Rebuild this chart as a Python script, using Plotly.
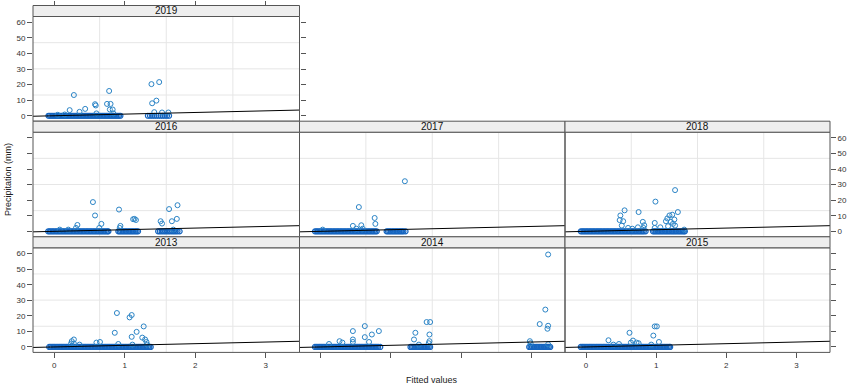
import plotly.graph_objects as go

# ---------------- data ----------------
years = ["2019", "2016", "2017", "2018", "2013", "2014", "2015"]

x_2019_dry = [-0.08, -0.06, -0.04, -0.02, 0.00, 0.02, 0.04, 0.06, 0.08, 0.10, 0.12, 0.14, 0.16, 0.18,
              0.20, 0.22, 0.24, 0.26, 0.28, 0.30, 0.32, 0.34, 0.36, 0.38, 0.40, 0.42, 0.44, 0.46,
              0.48, 0.50, 0.52, 0.54, 0.56, 0.58, 0.60, 0.62, 0.64, 0.66, 0.68, 0.70, 0.72, 0.74,
              0.76, 0.78, 0.80, 0.82, 0.84, 0.86, 0.88, 0.90, 0.92, 0.94,
              1.33, 1.36, 1.39, 1.42, 1.45, 1.48, 1.51, 1.54, 1.57, 1.60, 1.63]
x_2019_wet = [0.28, 0.22, 0.36, 0.44, 0.58, 0.59, 0.60, 0.78, 0.75, 0.80, 0.79, 0.83, 0.84,
              1.38, 1.49, 1.39, 1.45, 1.42, 1.53, 1.62, 0.15, 0.05]
y_2019_wet = [13.3, 3.6, 2.5, 4.4, 7.4, 6.6, 1.5, 15.9, 7.6, 7.6, 4.0, 4.0, 1.5,
              20.3, 21.6, 8.0, 9.7, 2.3, 2.1, 2.1, 0.8, 0.6]

x_2016_dry = [-0.085, -0.065, -0.045, -0.025, -0.005, 0.015, 0.035, 0.055, 0.075, 0.095, 0.115, 0.135,
              0.155, 0.175, 0.195, 0.215, 0.235, 0.255, 0.275, 0.295, 0.315, 0.335, 0.355, 0.375,
              0.395, 0.415, 0.435, 0.455, 0.475, 0.495, 0.515, 0.535, 0.555, 0.575, 0.595, 0.615,
              0.635, 0.655, 0.675, 0.695, 0.715, 0.735, 0.755, 0.77,
              0.91, 0.93, 0.95, 0.97, 0.99, 1.01, 1.03, 1.05, 1.07, 1.09, 1.11, 1.13, 1.15, 1.17, 1.19,
              1.475, 1.50, 1.525, 1.55, 1.575, 1.60, 1.625, 1.65, 1.675, 1.70, 1.725, 1.75, 1.78]
x_2016_wet = [0.55, 0.58, 0.67, 0.64, 0.33, 0.31, 0.08, 0.20, 0.92, 0.94, 0.93, 1.12, 1.16, 1.14,
              1.51, 1.53, 1.63, 1.75, 1.67, 1.74, 1.69]
y_2016_wet = [18.8, 10.2, 4.8, 2.2, 4.1, 2.2, 1.1, 1.1, 14.0, 3.5, 2.2, 7.8, 7.3, 8.0,
              6.5, 5.0, 14.3, 16.8, 6.5, 8.0, 1.1]

x_2017_dry = [-0.08, -0.06, -0.04, -0.02, 0.00, 0.02, 0.04, 0.06, 0.08, 0.10, 0.12, 0.14, 0.16, 0.18,
              0.20, 0.22, 0.24, 0.26, 0.28, 0.30, 0.32, 0.34, 0.36, 0.38, 0.40, 0.42, 0.44, 0.46,
              0.48, 0.50, 0.52, 0.54, 0.56, 0.58, 0.60, 0.62, 0.64, 0.66, 0.68, 0.70, 0.72, 0.74,
              0.76, 0.78, 0.80,
              0.94, 0.96, 0.98, 1.00, 1.02, 1.04, 1.06, 1.08, 1.10, 1.12, 1.14, 1.16, 1.18, 1.21]
x_2017_wet = [1.20, 0.545, 0.77, 0.78, 0.46, 0.58, 0.51, 0.60, 0.03]
y_2017_wet = [32.2, 15.6, 8.6, 4.8, 3.5, 3.9, 1.7, 1.7, 1.1]

x_2018_dry = [-0.075, -0.055, -0.035, -0.015, 0.005, 0.025, 0.045, 0.065, 0.085, 0.105, 0.125, 0.145,
              0.165, 0.185, 0.205, 0.225, 0.245, 0.265, 0.285, 0.305, 0.325, 0.345, 0.365, 0.385,
              0.405, 0.425, 0.445, 0.465, 0.485, 0.505, 0.525, 0.545, 0.565, 0.585, 0.605, 0.625,
              0.645, 0.665, 0.685, 0.705, 0.725, 0.745, 0.765, 0.785, 0.805, 0.825, 0.85,
              0.955, 0.975, 0.995, 1.015, 1.035, 1.055, 1.075, 1.095, 1.115, 1.135, 1.155, 1.175,
              1.195, 1.215, 1.235, 1.255, 1.275, 1.295, 1.315, 1.335, 1.355, 1.375, 1.395, 1.41]
x_2018_wet = [1.27, 0.99, 0.55, 0.75, 0.49, 0.48, 0.53, 0.51, 0.60, 0.66, 0.74, 0.81, 0.83, 0.82,
              0.98, 0.98, 1.06, 1.14, 1.16, 1.19, 1.23, 1.31, 1.26, 1.21, 1.24, 1.27, 1.17, 1.40]
y_2018_wet = [26.5, 19.1, 13.5, 12.4, 10.2, 7.2, 6.5, 3.7, 2.2, 1.7, 2.6, 6.1, 3.9, 2.2,
              5.4, 2.2, 2.6, 6.5, 8.3, 10.2, 10.7, 12.4, 7.6, 6.1, 4.8, 3.7, 3.3, 1.1]

x_2013_dry = [-0.07, -0.05, -0.03, -0.01, 0.01, 0.03, 0.05, 0.07, 0.09, 0.11, 0.13, 0.15, 0.17, 0.19,
              0.21, 0.23, 0.25, 0.27, 0.29, 0.31, 0.33, 0.35, 0.37, 0.39, 0.41, 0.43, 0.45, 0.47,
              0.49, 0.51, 0.53, 0.55, 0.57, 0.59, 0.61, 0.63, 0.65, 0.67, 0.69, 0.71, 0.73, 0.75,
              0.77, 0.79, 0.81, 0.83, 0.85, 0.87, 0.89, 0.91, 0.93, 0.95, 0.97, 0.99, 1.01, 1.03,
              1.05, 1.07, 1.09, 1.11, 1.13, 1.15, 1.17, 1.19, 1.21, 1.23, 1.25, 1.27, 1.29, 1.31,
              1.33, 1.35, 1.37]
x_2013_wet = [0.89, 1.10, 1.07, 0.86, 1.27, 1.17, 1.10, 1.25, 1.29, 1.31, 1.32, 0.91, 0.25, 0.28,
              0.24, 0.28, 0.36, 0.60, 0.65, 1.11]
y_2013_wet = [21.8, 20.5, 19.0, 9.1, 13.2, 9.7, 6.5, 6.0, 4.8, 3.2, 1.5, 1.9, 3.7, 4.8,
              2.2, 2.2, 1.5, 2.8, 3.2, 1.5]

x_2014_dry = [-0.08, -0.06, -0.04, -0.02, 0.00, 0.02, 0.04, 0.06, 0.08, 0.10, 0.12, 0.14, 0.16, 0.18,
              0.20, 0.22, 0.24, 0.26, 0.28, 0.30, 0.32, 0.34, 0.36, 0.38, 0.40, 0.42, 0.44, 0.46,
              0.48, 0.50, 0.52, 0.54, 0.56, 0.58, 0.60, 0.62, 0.64, 0.66, 0.68, 0.70, 0.72, 0.74,
              0.76, 0.78, 0.80, 0.82, 0.85,
              1.28, 1.30, 1.32, 1.34, 1.36, 1.38, 1.40, 1.42, 1.44, 1.46, 1.48, 1.50, 1.52, 1.54, 1.56,
              2.97, 2.99, 3.01, 3.03, 3.05, 3.07, 3.09, 3.11, 3.13, 3.15, 3.17, 3.19, 3.21, 3.23,
              3.25, 3.27]
x_2014_wet = [0.12, 0.27, 0.31, 0.46, 0.46, 0.46, 0.63, 0.63, 0.73, 0.69, 0.83, 1.35, 1.33, 1.51,
              1.56, 1.55, 1.55, 1.54, 1.40, 3.24, 3.20, 3.12, 3.24, 3.23, 2.98, 2.99, 3.24]
y_2014_wet = [1.9, 3.7, 2.8, 10.2, 4.8, 3.2, 13.4, 6.3, 8.0, 3.2, 10.2, 9.1, 4.8, 16.0,
              16.0, 8.0, 3.7, 2.4, 1.5, 59.4, 24.0, 14.7, 13.6, 11.7, 3.7, 2.4, 1.7]

x_2015_dry = [-0.075, -0.055, -0.035, -0.015, 0.005, 0.025, 0.045, 0.065, 0.085, 0.105, 0.125, 0.145,
              0.165, 0.185, 0.205, 0.225, 0.245, 0.265, 0.285, 0.305, 0.325, 0.345, 0.365, 0.385,
              0.405, 0.425, 0.445, 0.465, 0.485, 0.505, 0.525, 0.545, 0.565, 0.585, 0.605, 0.625,
              0.645, 0.665, 0.685, 0.705, 0.725, 0.745, 0.765, 0.785, 0.805, 0.825, 0.845, 0.865,
              0.885, 0.905, 0.925, 0.945, 0.965, 0.985, 1.005, 1.025, 1.045, 1.065, 1.085, 1.105,
              1.125, 1.145, 1.165, 1.185, 1.20]
x_2015_wet = [0.98, 1.01, 0.62, 0.96, 0.32, 0.67, 0.64, 0.72, 0.75, 1.04, 0.47, 0.39, 0.93]
y_2015_wet = [13.2, 13.2, 9.1, 7.3, 4.3, 4.1, 2.8, 2.8, 2.4, 3.2, 1.9, 1.5, 1.5]

x_ticks = [0, 1, 2, 3]
y_ticks = [0, 10, 20, 30, 40, 50, 60]
fit_intercept = 0.0
fit_slope = 1.05

data = {
    "2019": (x_2019_dry, x_2019_wet, y_2019_wet),
    "2016": (x_2016_dry, x_2016_wet, y_2016_wet),
    "2017": (x_2017_dry, x_2017_wet, y_2017_wet),
    "2018": (x_2018_dry, x_2018_wet, y_2018_wet),
    "2013": (x_2013_dry, x_2013_wet, y_2013_wet),
    "2014": (x_2014_dry, x_2014_wet, y_2014_wet),
    "2015": (x_2015_dry, x_2015_wet, y_2015_wet),
}

# ---------------- layout geometry ----------------
W, H = 850, 387
XR = [-0.3, 3.48]
YR = [-3.5, 63.7]
cols = [(33, 299.5), (299.5, 565), (565, 830)]
rows = [(5.5, 16.5, 121.2), (121.2, 132.2, 236.8), (236.8, 247.8, 352.4)]
pos = {"2019": (0, 0), "2016": (0, 1), "2017": (1, 1), "2018": (2, 1),
       "2013": (0, 2), "2014": (1, 2), "2015": (2, 2)}

FONT = "Liberation Sans, Arial, sans-serif"
PT_COLOR = "#2b84c6"
BAND_COLOR = "#1565c0"
AX_COLOR = "#555555"
TICKFONT = dict(family=FONT, size=8, color="#333333")

fig = go.Figure()
layout = dict(width=W, height=H, margin=dict(l=0, r=0, t=0, b=0),
              paper_bgcolor="white", plot_bgcolor="white", showlegend=False,
              font=dict(family=FONT))
shapes = []
annotations = []

axis_cfg = {
    "2019": dict(yl=True, yll=True, yr=True, yrl=False, xb=False, xbl=False),
    "2016": dict(yl=True, yll=False, yr=False, yrl=False, xb=False, xbl=False),
    "2017": dict(yl=False, yll=False, yr=False, yrl=False, xb=False, xbl=False),
    "2018": dict(yl=False, yll=False, yr=True, yrl=True, xb=False, xbl=False),
    "2013": dict(yl=True, yll=True, yr=False, yrl=False, xb=True, xbl=True),
    "2014": dict(yl=False, yll=False, yr=False, yrl=False, xb=True, xbl=False),
    "2015": dict(yl=False, yll=False, yr=True, yrl=False, xb=True, xbl=True),
}

base_x = dict(range=XR, tickvals=x_ticks, showgrid=False, zeroline=False, showline=False,
              ticklen=5, tickwidth=1, tickcolor=AX_COLOR, tickfont=TICKFONT, fixedrange=True)
base_y = dict(range=YR, tickvals=y_ticks, showgrid=False, zeroline=False, showline=False,
              ticklen=5, tickwidth=1, tickcolor=AX_COLOR, tickfont=TICKFONT, fixedrange=True)

extra = 8
for i, yr in enumerate(years, start=1):
    c, r = pos[yr]
    x0, x1 = cols[c]
    st, pt, pb = rows[r]
    xd = [x0 / W, x1 / W]
    yd = [1 - pb / H, 1 - pt / H]
    cfg = axis_cfg[yr]
    xn = "x" if i == 1 else f"x{i}"
    yn = "y" if i == 1 else f"y{i}"

    xa = dict(base_x, domain=xd, anchor=yn, side="bottom",
              ticks="outside" if cfg["xb"] else "", showticklabels=cfg["xbl"])
    if cfg["yl"]:
        ya = dict(base_y, domain=yd, anchor=xn, side="left", ticks="outside",
                  showticklabels=cfg["yll"])
    elif cfg["yr"]:
        ya = dict(base_y, domain=yd, anchor=xn, side="right", ticks="outside",
                  showticklabels=cfg["yrl"])
    else:
        ya = dict(base_y, domain=yd, anchor=xn, ticks="", showticklabels=False)
    layout["xaxis" if i == 1 else f"xaxis{i}"] = xa
    layout["yaxis" if i == 1 else f"yaxis{i}"] = ya

    if cfg["yl"] and cfg["yr"]:
        layout[f"yaxis{extra}"] = dict(base_y, overlaying=yn, anchor=xn, side="right",
                                       ticks="outside", showticklabels=cfg["yrl"])
        fig.add_trace(go.Scatter(x=[None], y=[None], xaxis=xn, yaxis=f"y{extra}",
                                 hoverinfo="skip", showlegend=False))
        extra += 1
    if yr == "2019":
        layout[f"xaxis{extra}"] = dict(base_x, overlaying=xn, anchor="free",
                                       position=1 - st / H, side="top",
                                       ticks="outside", showticklabels=False)
        fig.add_trace(go.Scatter(x=[None], y=[None], xaxis=f"x{extra}", yaxis=yn,
                                 hoverinfo="skip", showlegend=False))
        extra += 1

    for q in (0.25, 0.5, 0.75):
        shapes.append(dict(type="line", xref=f"{xn} domain", yref=f"{yn} domain",
                           x0=q, x1=q, y0=0, y1=1, line=dict(color="#e6e6e6", width=1),
                           layer="below"))
        shapes.append(dict(type="line", xref=f"{xn} domain", yref=f"{yn} domain",
                           x0=0, x1=1, y0=q, y1=q, line=dict(color="#e6e6e6", width=1),
                           layer="below"))

    dry, wx, wy = data[yr]
    fig.add_trace(go.Scatter(x=dry, y=[0] * len(dry), mode="markers", xaxis=xn, yaxis=yn,
                             marker=dict(symbol="circle-open", size=5, color=BAND_COLOR,
                                         line=dict(width=1.2, color=BAND_COLOR)),
                             cliponaxis=True, hoverinfo="skip"))
    fig.add_trace(go.Scatter(x=wx, y=wy, mode="markers", xaxis=xn, yaxis=yn,
                             marker=dict(symbol="circle-open", size=5, color=PT_COLOR,
                                         line=dict(width=1, color=PT_COLOR)),
                             cliponaxis=True, hoverinfo="skip"))
    lx = [XR[0], XR[1]]
    ly = [fit_intercept + fit_slope * v for v in lx]
    fig.add_trace(go.Scatter(x=lx, y=ly, mode="lines", xaxis=xn, yaxis=yn,
                             line=dict(color="black", width=1), hoverinfo="skip"))

    shapes.append(dict(type="rect", xref="paper", yref="paper", x0=x0 / W, x1=x1 / W,
                       y0=1 - pb / H, y1=1 - pt / H, line=dict(color=AX_COLOR, width=1),
                       fillcolor="rgba(0,0,0,0)", layer="above"))
    shapes.append(dict(type="rect", xref="paper", yref="paper", x0=x0 / W, x1=x1 / W,
                       y0=1 - pt / H, y1=1 - st / H, line=dict(color=AX_COLOR, width=1),
                       fillcolor="#eeeeee", layer="above"))
    annotations.append(dict(text=yr, xref="paper", yref="paper", x=(x0 + x1) / 2 / W,
                            y=1 - (st + pt) / 2 / H, showarrow=False, xanchor="center",
                            yanchor="middle", font=dict(family=FONT, size=10, color="#111111")))

annotations.append(dict(text="Fitted values", xref="paper", yref="paper", x=(33 + 830) / 2 / W,
                        y=1 - 380 / H, showarrow=False, xanchor="center", yanchor="middle",
                        font=dict(family=FONT, size=9, color="#222222")))
annotations.append(dict(text="Precipitation (mm)", xref="paper", yref="paper", x=8 / W,
                        y=1 - 180 / H, showarrow=False, textangle=-90, xanchor="center",
                        yanchor="middle", font=dict(family=FONT, size=9, color="#222222")))

layout["shapes"] = shapes
layout["annotations"] = annotations
fig.update_layout(**layout)
fig.write_html("out.html", config={"displayModeBar": False},
               post_script="document.body.style.margin='0';document.body.style.overflow='hidden';")
